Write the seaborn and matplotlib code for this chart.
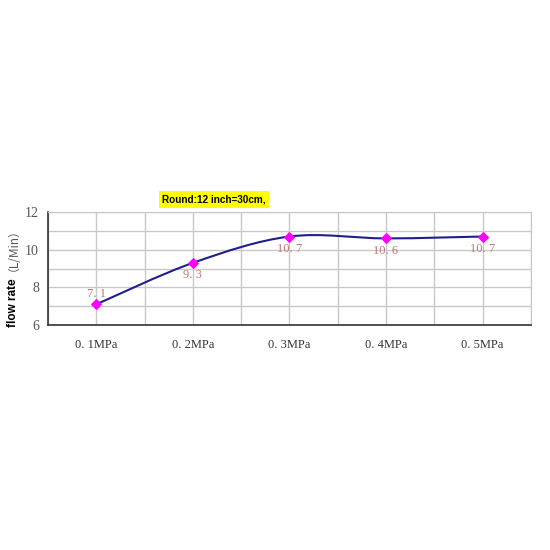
import numpy as np
import matplotlib
matplotlib.use('Agg')
import matplotlib.pyplot as plt
from matplotlib.path import Path
from matplotlib.patches import PathPatch
import seaborn as sns

# data
pressures = ['0.1MPa', '0.2MPa', '0.3MPa', '0.4MPa', '0.5MPa']
flow = [7.1, 9.3, 10.7, 10.6, 10.7]
label_above = [True, False, False, False, False]

sns.set_style('white')
plt.rcParams['font.family'] = ['DejaVu Sans', 'Noto Sans CJK SC']

fig = plt.figure(figsize=(5.5, 5.5), dpi=100)
ax = fig.add_axes([0.0873, 0.409, 0.878, 0.2055])

xs = np.arange(len(pressures))
ys = np.array(flow)

# smoothed line (excel-like bezier through the points)
verts = [(xs[0], ys[0])]
codes = [Path.MOVETO]
n = len(xs)
for i in range(n - 1):
    p0 = np.array([xs[max(i - 1, 0)], ys[max(i - 1, 0)]])
    p1 = np.array([xs[i], ys[i]])
    p2 = np.array([xs[i + 1], ys[i + 1]])
    p3 = np.array([xs[min(i + 2, n - 1)], ys[min(i + 2, n - 1)]])
    c1 = p1 + (p2 - p0) / 6
    c2 = p2 - (p3 - p1) / 6
    verts += [tuple(c1), tuple(c2), tuple(p2)]
    codes += [Path.CURVE4] * 3
ax.add_patch(PathPatch(Path(verts, codes), fill=False, edgecolor='#1f1f8c', lw=1.5, zorder=3))

sns.lineplot(x=xs, y=ys, ax=ax, marker='D', markersize=5.5, color='#ff00ff',
             markeredgecolor='#ff00ff', linestyle='none', zorder=4)

for x, y, up in zip(xs, ys, label_above):
    ax.text(x, y + 0.25 if up else y - 0.33, f'{y:.1f}'.replace('.', '. '),
            ha='center', va='bottom' if up else 'top', fontsize=9,
            color='#c07878', family='Liberation Serif', zorder=5)

ax.set_xlim(-0.5, 4.5)
ax.set_ylim(6, 12)
ax.set_yticks([6, 8, 10, 12])
ax.set_yticks(np.arange(6, 13, 1), minor=True)
ax.set_xticks(xs)
ax.set_xticks(np.arange(-0.5, 4.6, 1), minor=True)
ax.set_xticklabels([p.replace('.', '. ') for p in pressures], family='Liberation Serif',
                   fontsize=9, color='#333333')
ax.set_yticklabels(['6', '8', '10', '12'], family='Liberation Serif', fontsize=10, color='#555555')
ax.grid(True, which='both', color='#c8c8c8', lw=1)
ax.tick_params(axis='x', which='major', length=0, pad=10)
ax.tick_params(axis='x', which='minor', length=3, direction='in', color='#333333')
ax.tick_params(axis='y', which='major', length=0, pad=6.5)
ax.tick_params(axis='y', which='minor', length=0)
for s in ['top', 'right']:
    ax.spines[s].set_color('#c8c8c8')
for s in ['left', 'bottom']:
    ax.spines[s].set_color('#333333')
    ax.spines[s].set_linewidth(1.2)

ax.set_ylabel('')
fig.text(0.024, 0.449, 'flow rate', rotation=90, ha='center', va='center',
         fontsize=8.5, fontweight='bold', color='black', family='Liberation Sans')
fig.text(0.013, 0.557, '（L/Min）', rotation=90, ha='center', va='center',
         fontsize=8.5, color='#555555', family=['Noto Sans CJK SC', 'DejaVu Sans'])

fig.text(0.389, 0.637, 'Round:12 inch=30cm,', ha='center', va='center', fontsize=7.2,
         fontweight='bold', color='black', family='Liberation Sans',
         bbox=dict(boxstyle='square,pad=0.35', facecolor='#ffff00', edgecolor='none'))

fig.savefig('out.png', dpi=100)
